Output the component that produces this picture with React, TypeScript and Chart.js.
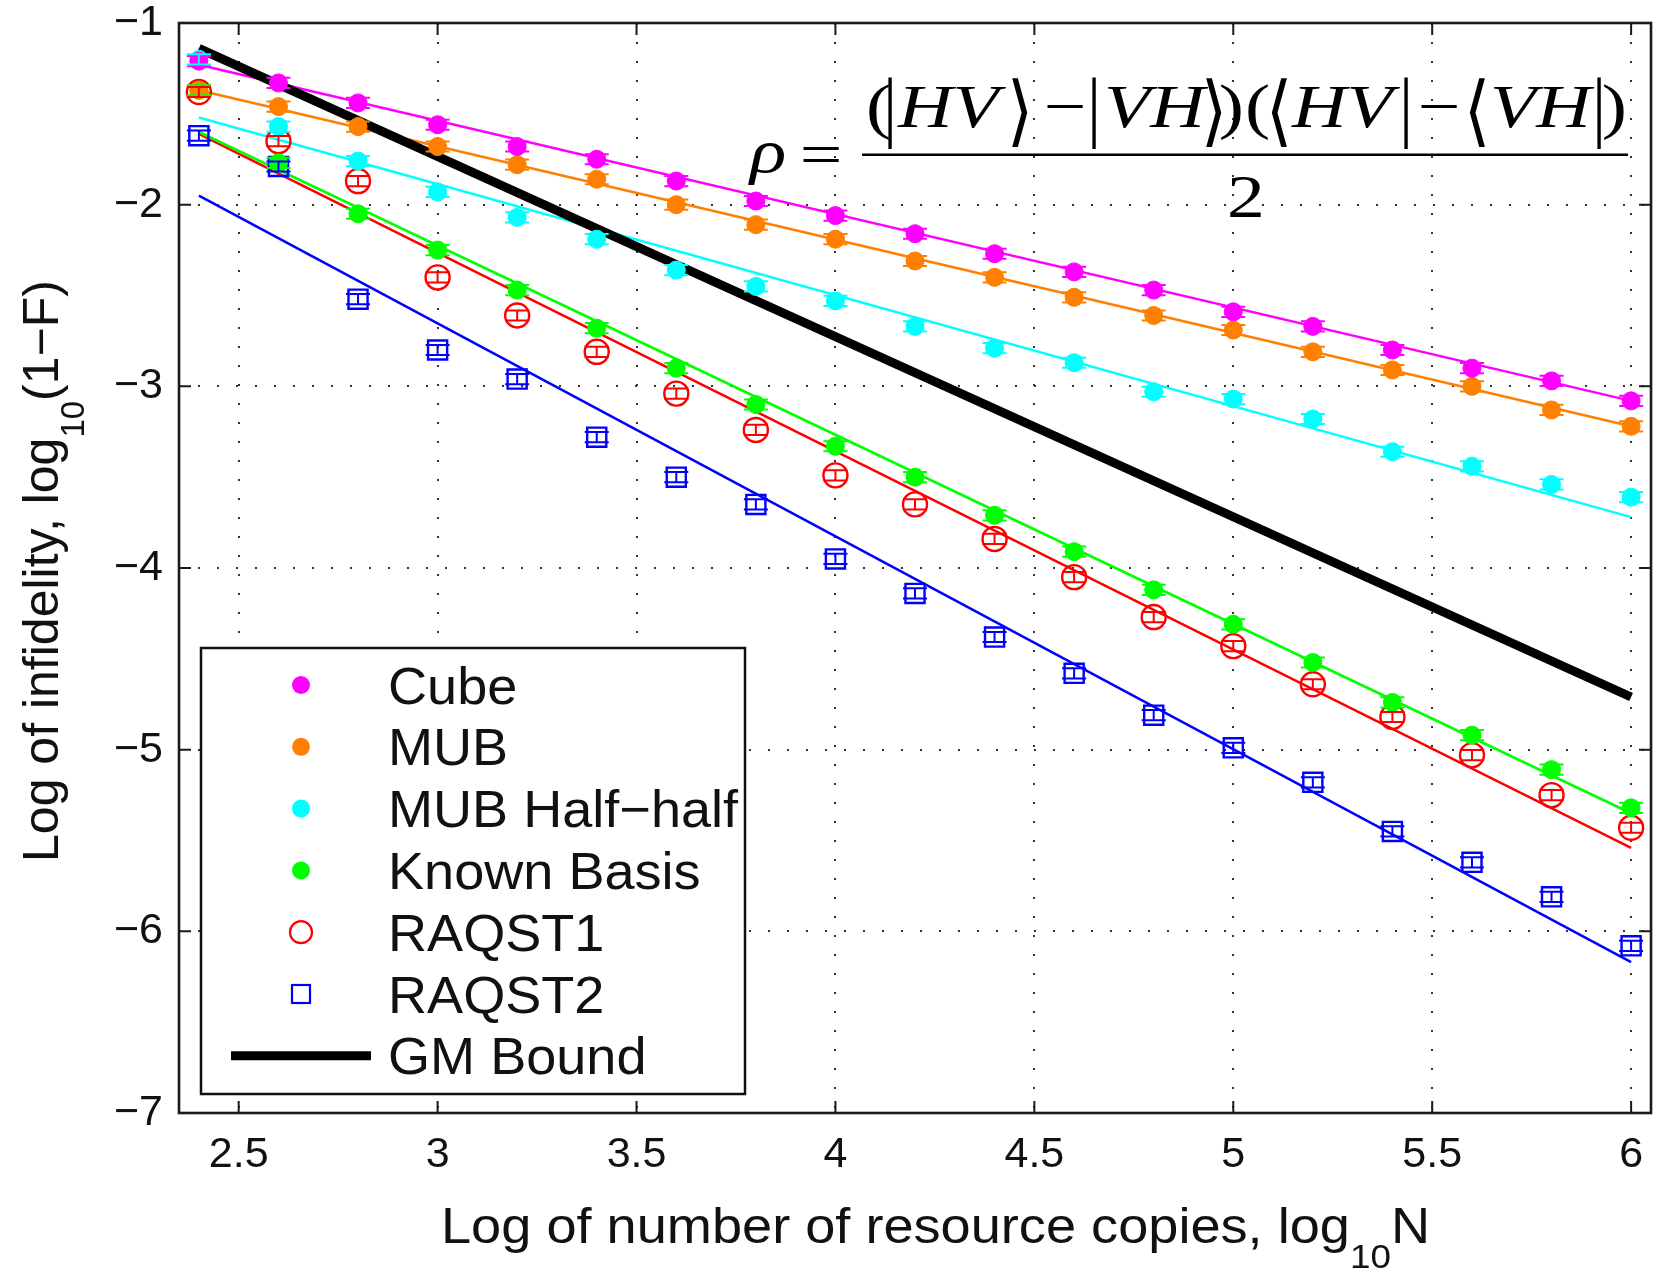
import { useEffect, useRef } from "react";
import { Chart, registerables } from "chart.js";

Chart.register(...registerables);

// log10 N for every measured point
const LOG_N = [2.4, 2.6, 2.8, 3.0, 3.2, 3.4, 3.6, 3.8, 4.0, 4.2, 4.4, 4.6, 4.8, 5.0, 5.2, 5.4, 5.6, 5.8, 6.0];

// log10(1-F) per strategy
const CUBE = [-1.21, -1.33, -1.44, -1.56, -1.68, -1.75, -1.87, -1.98, -2.06, -2.16, -2.27, -2.37, -2.47, -2.59, -2.67, -2.80, -2.90, -2.97, -3.08];
const MUB = [-1.37, -1.46, -1.57, -1.68, -1.78, -1.86, -2.00, -2.11, -2.19, -2.31, -2.40, -2.51, -2.61, -2.69, -2.81, -2.91, -3.00, -3.13, -3.22];
const MUB_HALF = [-1.20, -1.57, -1.76, -1.93, -2.07, -2.19, -2.36, -2.45, -2.53, -2.67, -2.79, -2.87, -3.03, -3.07, -3.18, -3.36, -3.44, -3.54, -3.61];
const KNOWN_BASIS = [-1.37, -1.77, -2.05, -2.25, -2.47, -2.68, -2.90, -3.10, -3.33, -3.50, -3.71, -3.91, -4.12, -4.31, -4.52, -4.74, -4.92, -5.11, -5.32];
const RAQST1 = [-1.38, -1.65, -1.87, -2.40, -2.61, -2.81, -3.04, -3.24, -3.49, -3.65, -3.84, -4.05, -4.27, -4.43, -4.64, -4.82, -5.03, -5.25, -5.43];
const RAQST2 = [-1.62, -1.79, -2.52, -2.80, -2.96, -3.28, -3.50, -3.65, -3.95, -4.14, -4.38, -4.58, -4.81, -4.99, -5.18, -5.45, -5.62, -5.81, -6.08];

// half-width of the error bars (log10 units)
const ERROR_BAR = 0.028;

// straight-line fits, evaluated at the ends of the sampled range
const FIT_X = [2.4, 6.0];
const CUBE_FIT = [-1.23, -3.08];
const MUB_FIT = [-1.37, -3.22];
const MUB_HALF_FIT = [-1.52, -3.72];
const KNOWN_BASIS_FIT = [-1.60, -5.35];
const RAQST1_FIT = [-1.61, -5.54];
const RAQST2_FIT = [-1.95, -6.17];
const GM_BOUND = [-1.14, -4.71];

const X_TICKS = [2.5, 3, 3.5, 4, 4.5, 5, 5.5, 6];
const Y_TICKS = [-7, -6, -5, -4, -3, -2, -1];

const SANS = "'Liberation Sans', Arial, Helvetica, sans-serif";
const SERIF = "'Liberation Serif', 'Times New Roman', 'DejaVu Serif', 'DejaVu Sans', serif";

type Series = {
  label: string;
  values: number[];
  fit: number[];
  color: string;
  shape: "dot" | "ring" | "square";
};

const SERIES: Series[] = [
  { label: "Cube", values: CUBE, fit: CUBE_FIT, color: "#ff00ff", shape: "dot" },
  { label: "MUB", values: MUB, fit: MUB_FIT, color: "#ff8000", shape: "dot" },
  { label: "MUB Half\u2212half", values: MUB_HALF, fit: MUB_HALF_FIT, color: "#00ffff", shape: "dot" },
  { label: "Known Basis", values: KNOWN_BASIS, fit: KNOWN_BASIS_FIT, color: "#00ff00", shape: "dot" },
  { label: "RAQST1", values: RAQST1, fit: RAQST1_FIT, color: "#ff0000", shape: "ring" },
  { label: "RAQST2", values: RAQST2, fit: RAQST2_FIT, color: "#0000ff", shape: "square" },
];

function markerStyle(s: Series) {
  if (s.shape === "dot") {
    return { pointStyle: "circle", pointRadius: 9, pointBackgroundColor: s.color, pointBorderColor: s.color, pointBorderWidth: 1 };
  }
  if (s.shape === "ring") {
    return { pointStyle: "circle", pointRadius: 12, pointBackgroundColor: "rgba(0,0,0,0)", pointBorderColor: s.color, pointBorderWidth: 2.4 };
  }
  return { pointStyle: "rect", pointRadius: 13.5, pointBackgroundColor: "rgba(0,0,0,0)", pointBorderColor: s.color, pointBorderWidth: 2.4 };
}

function drawMarker(ctx: CanvasRenderingContext2D, s: Series, x: number, y: number) {
  ctx.save();
  ctx.strokeStyle = s.color;
  ctx.fillStyle = s.color;
  if (s.shape === "dot") {
    ctx.beginPath();
    ctx.arc(x, y, 9, 0, Math.PI * 2);
    ctx.fill();
  } else if (s.shape === "ring") {
    ctx.lineWidth = 2.2;
    ctx.beginPath();
    ctx.arc(x, y, 11, 0, Math.PI * 2);
    ctx.stroke();
  } else {
    ctx.lineWidth = 2.2;
    ctx.strokeRect(x - 9, y - 9, 18, 18);
  }
  ctx.restore();
}

type Part = { text: string; sub?: boolean };

function partsWidth(ctx: CanvasRenderingContext2D, parts: Part[], main: string, sub: string) {
  let w = 0;
  for (const p of parts) {
    ctx.font = p.sub ? sub : main;
    w += ctx.measureText(p.text).width;
  }
  return w;
}

function drawParts(ctx: CanvasRenderingContext2D, parts: Part[], main: string, sub: string, subShift: number) {
  let x = 0;
  for (const p of parts) {
    ctx.font = p.sub ? sub : main;
    ctx.fillText(p.text, x, p.sub ? subShift : 0);
    x += ctx.measureText(p.text).width;
  }
}

const X_TITLE: Part[] = [{ text: "Log of number of resource copies, log" }, { text: "10", sub: true }, { text: "N" }];
const Y_TITLE: Part[] = [{ text: "Log of infidelity, log" }, { text: "10", sub: true }, { text: "(1\u2212F)" }];

function drawTitles(ctx: CanvasRenderingContext2D) {
  ctx.save();
  ctx.fillStyle = "#111";
  ctx.textAlign = "left";
  ctx.textBaseline = "alphabetic";
  const main = `50px ${SANS}`;
  const sub = `34px ${SANS}`;
  // horizontal title, stretched to its span
  const wx = partsWidth(ctx, X_TITLE, main, sub);
  ctx.save();
  ctx.translate(441, 1243);
  ctx.scale(989 / wx, 1);
  drawParts(ctx, X_TITLE, main, sub, 25);
  ctx.restore();
  // vertical title
  const wy = partsWidth(ctx, Y_TITLE, main, `33px ${SANS}`);
  ctx.save();
  ctx.translate(58, 571);
  ctx.rotate(-Math.PI / 2);
  ctx.translate(-wy / 2, 0);
  drawParts(ctx, Y_TITLE, main, `33px ${SANS}`, 26);
  ctx.restore();
  ctx.restore();
}

function drawFormula(ctx: CanvasRenderingContext2D) {
  const FS = 62;
  const SX = 1.22;
  const it = `italic ${FS}px ${SERIF}`;
  const up = `${FS}px ${SERIF}`;
  ctx.save();
  ctx.fillStyle = "#000";
  ctx.textBaseline = "alphabetic";
  const put = (t: string, x: number, y: number, font: string, align: CanvasTextAlign) => {
    ctx.save();
    ctx.font = font;
    ctx.textAlign = align;
    ctx.translate(x, y);
    ctx.scale(SX, 1);
    ctx.fillText(t, 0, 0);
    ctx.restore();
  };
  // tall delimiters, stretched to span the numerator
  const delim = (t: string, cx: number) => {
    ctx.save();
    ctx.font = `${FS}px ${SERIF}`;
    ctx.textAlign = "center";
    const m = ctx.measureText(t);
    const asc = m.actualBoundingBoxAscent;
    const desc = m.actualBoundingBoxDescent;
    const sy = 71 / (asc + desc);
    ctx.translate(cx, 148);
    ctx.scale(1.1, sy);
    ctx.fillText(t, 0, -desc);
    ctx.restore();
  };
  const base = 127;
  put("\u03c1", 750, 172, it, "left");
  put("=", 821, 175, up, "center");
  ctx.fillRect(862, 153.5, 766, 2.5);
  put("2", 1246, 217, up, "center");

  put("(", 866, base, up, "left");
  delim("|", 890);
  put("HV", 898, base, it, "left");
  delim("\u27e9", 1020);
  put("\u2212", 1065, base, up, "center");
  delim("|", 1094);
  put("VH", 1104, base, it, "left");
  delim("\u27e9", 1214);
  put(")", 1244, base, up, "right");
  put("(", 1245, base, up, "left");
  delim("\u27e8", 1279);
  put("HV", 1292, base, it, "left");
  delim("|", 1406);
  put("\u2212", 1439, base, up, "center");
  delim("\u27e8", 1477);
  put("VH", 1490, base, it, "left");
  delim("|", 1599);
  put(")", 1627, base, up, "right");
  ctx.restore();
}

function drawLegend(ctx: CanvasRenderingContext2D) {
  const left = 201, top = 648, right = 745, bottom = 1094;
  ctx.save();
  ctx.fillStyle = "#fff";
  ctx.fillRect(left, top, right - left, bottom - top);
  ctx.lineWidth = 2.5;
  ctx.strokeStyle = "#111";
  ctx.strokeRect(left, top, right - left, bottom - top);
  const rowY = (i: number) => 685 + i * 61.8;
  ctx.fillStyle = "#111";
  ctx.textAlign = "left";
  ctx.textBaseline = "alphabetic";
  const label = (t: string, y: number) => {
    ctx.save();
    ctx.font = `52px ${SANS}`;
    ctx.translate(388, y + 18.5);
    ctx.scale(1.04, 1);
    ctx.fillText(t, 0, 0);
    ctx.restore();
  };
  SERIES.forEach((s, i) => {
    drawMarker(ctx, s, 301, rowY(i));
    label(s.label, rowY(i));
  });
  const gy = rowY(SERIES.length);
  ctx.beginPath();
  ctx.lineWidth = 9;
  ctx.strokeStyle = "#000";
  ctx.moveTo(231, gy);
  ctx.lineTo(371, gy);
  ctx.stroke();
  label("GM Bound", gy);
  ctx.restore();
}

const errorBarsPlugin = {
  id: "errorBars",
  afterDatasetsDraw(chart: any) {
    const ctx: CanvasRenderingContext2D = chart.ctx;
    const xs = chart.scales.x;
    const ys = chart.scales.y;
    ctx.save();
    ctx.lineWidth = 2;
    SERIES.forEach((s) => {
      ctx.strokeStyle = s.color;
      s.values.forEach((v, i) => {
        const px = xs.getPixelForValue(LOG_N[i]);
        const top = ys.getPixelForValue(v + ERROR_BAR);
        const bot = ys.getPixelForValue(v - ERROR_BAR);
        ctx.beginPath();
        ctx.moveTo(px, top);
        ctx.lineTo(px, bot);
        ctx.moveTo(px - 12, top);
        ctx.lineTo(px + 12, top);
        ctx.moveTo(px - 12, bot);
        ctx.lineTo(px + 12, bot);
        ctx.stroke();
      });
    });
    ctx.restore();
  },
};

const framePlugin = {
  id: "frame",
  afterDraw(chart: any) {
    const ctx: CanvasRenderingContext2D = chart.ctx;
    const { left, right, top, bottom } = chart.chartArea;
    const xs = chart.scales.x;
    const ys = chart.scales.y;
    ctx.save();
    ctx.strokeStyle = "#1a1a1a";
    ctx.lineWidth = 2;
    const t = 12;
    ctx.beginPath();
    X_TICKS.forEach((v) => {
      const px = xs.getPixelForValue(v);
      ctx.moveTo(px, bottom);
      ctx.lineTo(px, bottom - t);
      ctx.moveTo(px, top);
      ctx.lineTo(px, top + t);
    });
    Y_TICKS.forEach((v) => {
      const py = ys.getPixelForValue(v);
      ctx.moveTo(left, py);
      ctx.lineTo(left + t, py);
      ctx.moveTo(right, py);
      ctx.lineTo(right - t, py);
    });
    ctx.stroke();
    ctx.lineWidth = 2.6;
    ctx.strokeRect(left, top, right - left, bottom - top);
    ctx.restore();
    drawLegend(ctx);
    drawFormula(ctx);
    drawTitles(ctx);
  },
};

const whiteBackground = {
  id: "whiteBackground",
  beforeDraw(chart: any) {
    const ctx: CanvasRenderingContext2D = chart.ctx;
    ctx.save();
    ctx.fillStyle = "#fff";
    ctx.fillRect(0, 0, chart.width, chart.height);
    ctx.restore();
  },
};

export default function App() {
  const ref = useRef<HTMLCanvasElement>(null);

  useEffect(() => {
    if (!ref.current) return;
    const markerSets = SERIES.map((s) => ({
      label: s.label,
      data: LOG_N.map((x, i) => ({ x, y: s.values[i] })),
      showLine: false,
      order: 0,
      ...markerStyle(s),
    }));
    const fitSets = SERIES.map((s) => ({
      label: `${s.label} fit`,
      data: FIT_X.map((x, i) => ({ x, y: s.fit[i] })),
      showLine: true,
      borderColor: s.color,
      borderWidth: 2.5,
      pointRadius: 0,
      order: 2,
    }));
    const gmSet = {
      label: "GM Bound",
      data: FIT_X.map((x, i) => ({ x, y: GM_BOUND[i] })),
      showLine: true,
      borderColor: "#000",
      borderWidth: 9,
      borderCapStyle: "butt",
      pointRadius: 0,
      order: 1,
    };

    const tickFont = { family: SANS, size: 43 };
    const chart = new Chart(ref.current, {
      type: "scatter",
      data: { datasets: [...markerSets, gmSet, ...fitSets] as any },
      options: {
        animation: false,
        responsive: false,
        devicePixelRatio: 1,
        events: [],
        layout: { autoPadding: false, padding: { top: 23, right: 9, left: 0, bottom: 0 } },
        plugins: { legend: { display: false }, tooltip: { enabled: false }, title: { display: false } },
        scales: {
          x: {
            type: "linear",
            min: 2.35,
            max: 6.05,
            afterBuildTicks: (s: any) => {
              s.ticks = X_TICKS.map((value) => ({ value }));
            },
            afterFit: (s: any) => {
              s.height = 155;
              s.paddingLeft = 0;
              s.paddingRight = 0;
              s.paddingTop = 0;
              s.paddingBottom = 0;
            },
            ticks: {
              font: tickFont,
              color: "#111",
              padding: 16,
              maxRotation: 0,
              autoSkip: false,
              callback: (v: any) => String(v),
            },
            grid: { color: "#333", lineWidth: 2, drawTicks: false },
            border: { display: false, dash: [2, 17] },
          },
          y: {
            type: "linear",
            min: -7,
            max: -1,
            afterBuildTicks: (s: any) => {
              s.ticks = Y_TICKS.map((value) => ({ value }));
            },
            afterFit: (s: any) => {
              s.width = 179;
              s.paddingLeft = 0;
              s.paddingRight = 0;
              s.paddingTop = 0;
              s.paddingBottom = 0;
            },
            ticks: {
              font: tickFont,
              color: "#111",
              padding: 16,
              autoSkip: false,
              callback: (v: any) => (v < 0 ? "\u2212" + Math.abs(v) : String(v)),
            },
            grid: { color: "#333", lineWidth: 2, drawTicks: false },
            border: { display: false, dash: [2, 17] },
          },
        },
      } as any,
      plugins: [whiteBackground, errorBarsPlugin, framePlugin],
    });
    return () => chart.destroy();
  }, []);

  return (
    <div style={{ position: "absolute", left: 0, top: 0, width: 1660, height: 1268, background: "#fff" }}>
      <canvas ref={ref} width={1660} height={1268} style={{ display: "block", width: 1660, height: 1268 }} />
    </div>
  );
}
